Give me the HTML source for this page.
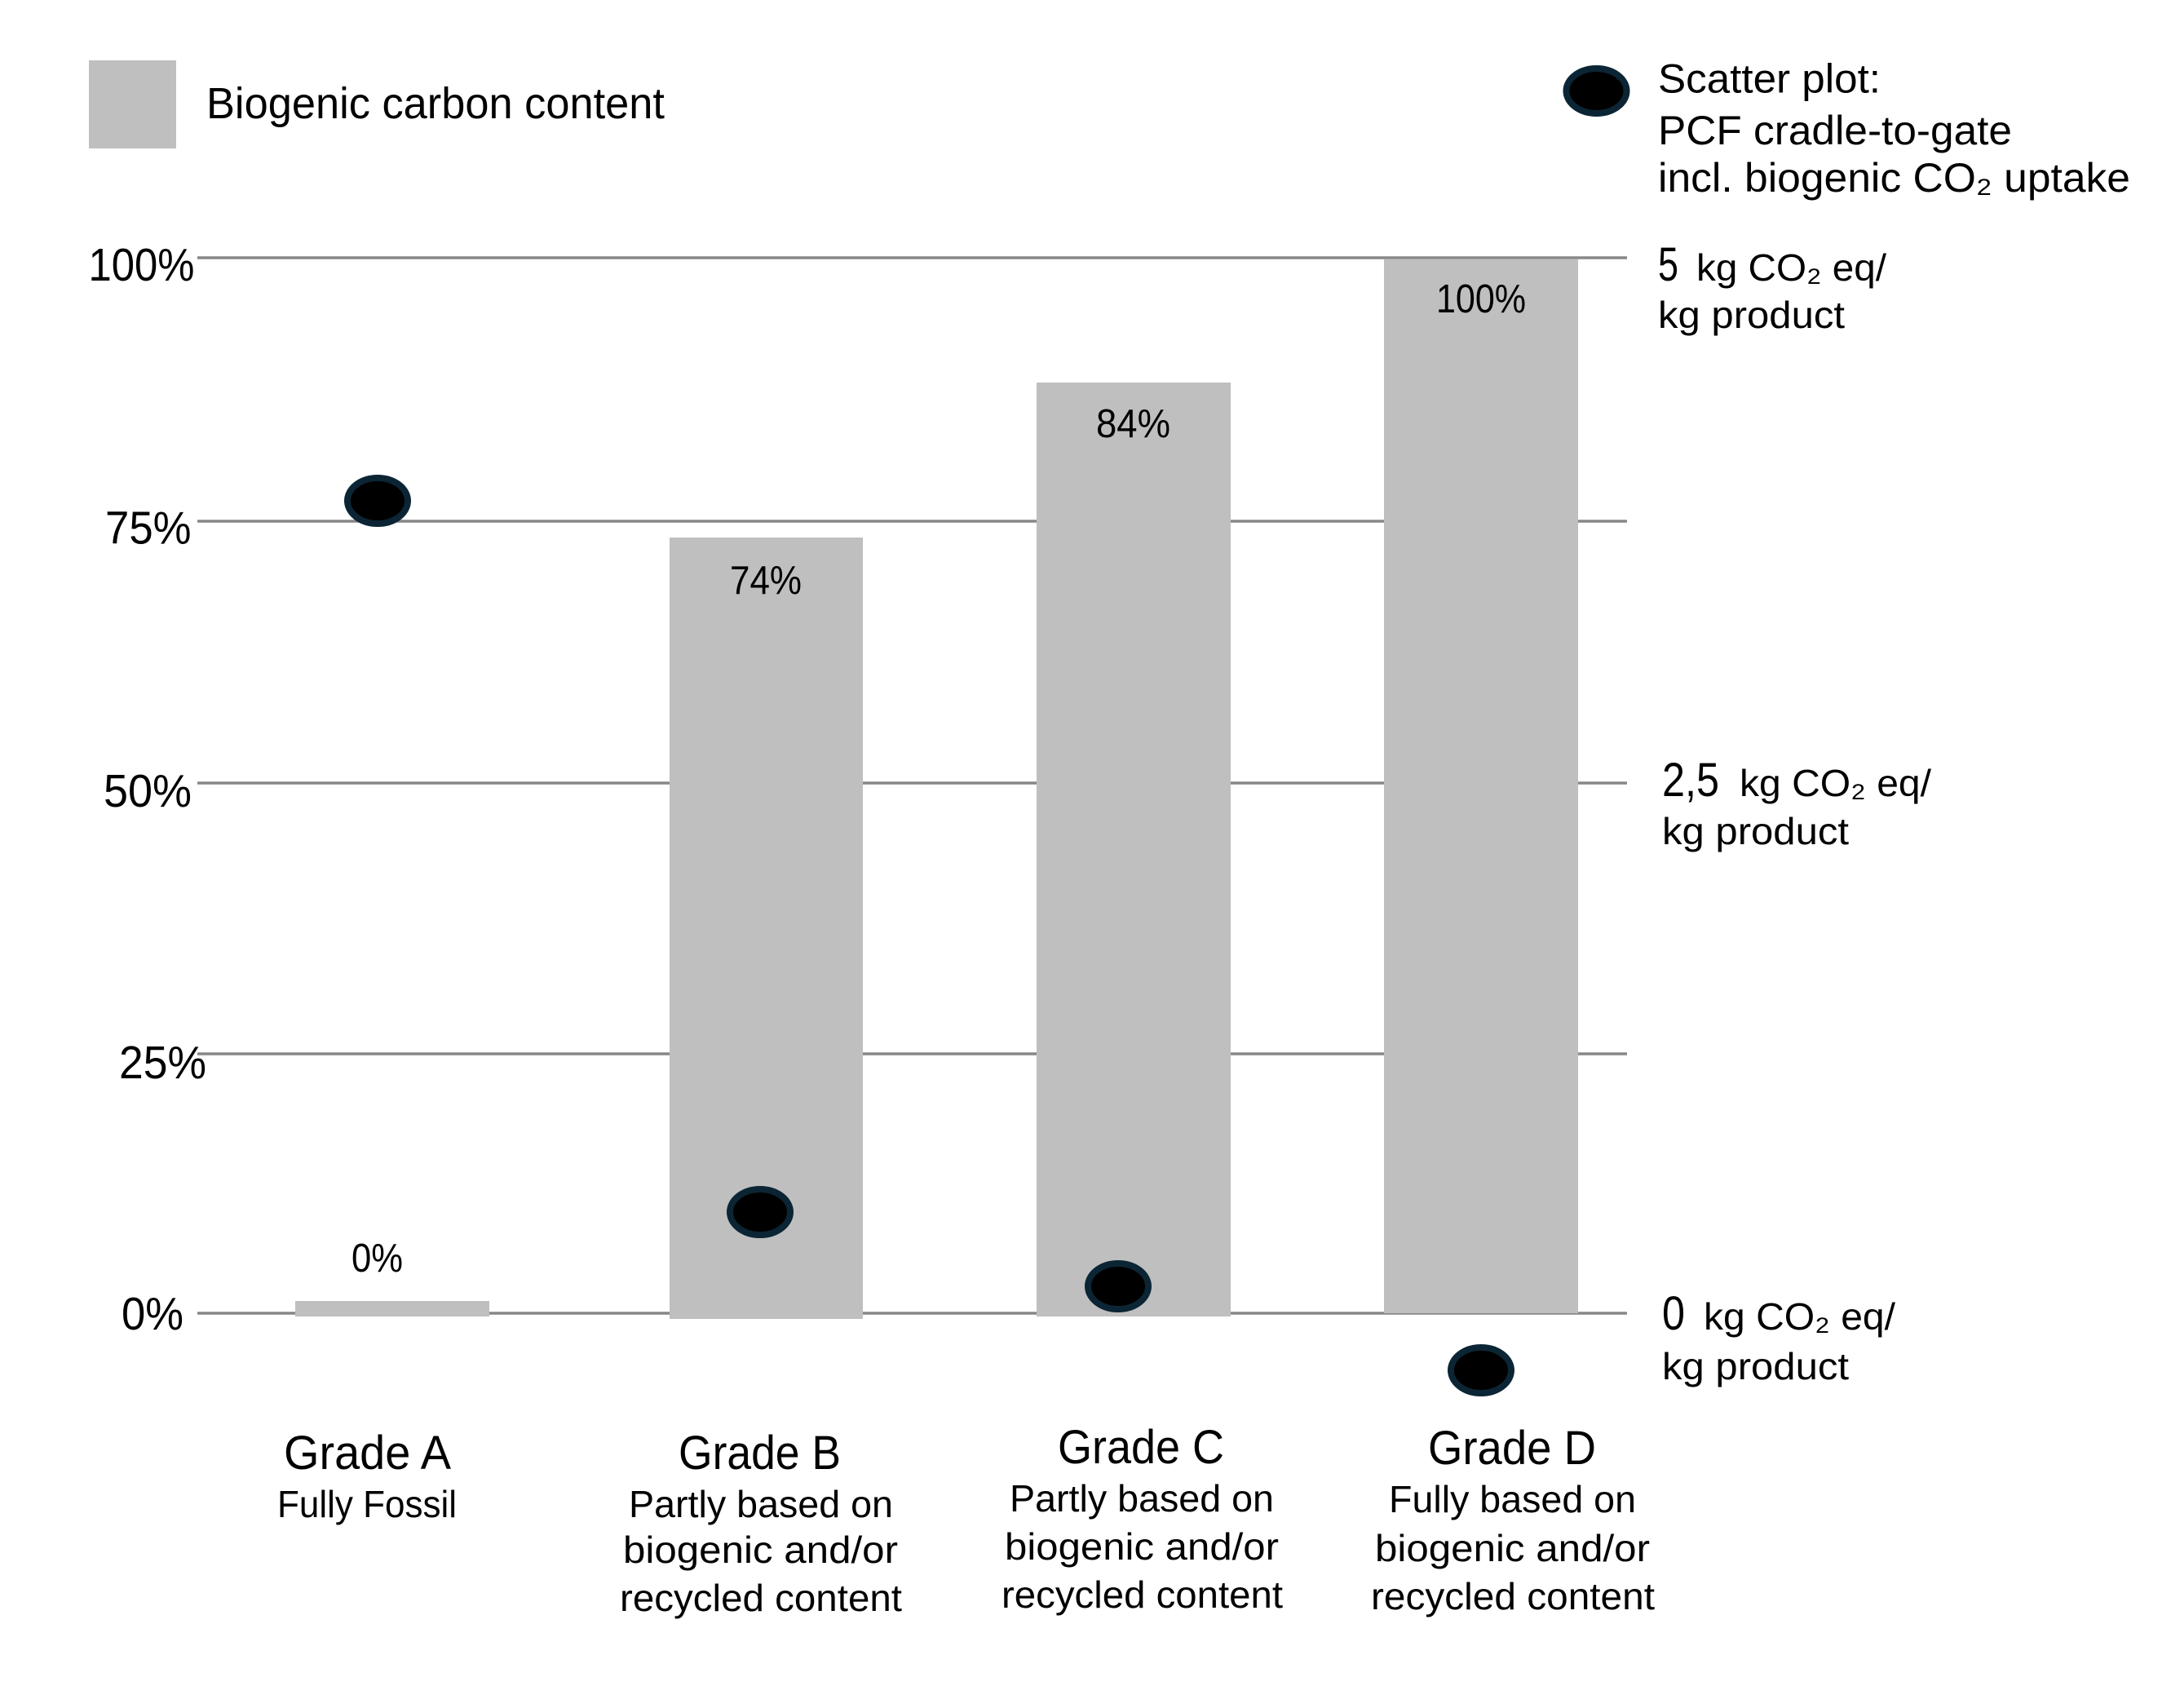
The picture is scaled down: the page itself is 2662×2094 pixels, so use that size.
<!DOCTYPE html>
<html>
<head>
<meta charset="utf-8">
<style>
  html, body { margin:0; padding:0; background:#ffffff; }
  svg { display:block; }
  text { font-family: "Liberation Sans", "DejaVu Sans", sans-serif; fill:#000; }
</style>
</head>
<body>
<svg xmlns="http://www.w3.org/2000/svg" width="2662" height="2094" viewBox="0 0 2662 2094">
  <rect x="0" y="0" width="2662" height="2094" fill="#ffffff"/>

  <!-- Legend: bars -->
  <rect x="109" y="74" width="107" height="108" fill="#bfbfbf"/>
  <text x="253" y="145" font-size="54" textLength="562" lengthAdjust="spacingAndGlyphs">Biogenic carbon content</text>

  <!-- Legend: scatter -->
  <ellipse cx="1957.5" cy="111.5" rx="37" ry="27.5" fill="#000" stroke="#0b2534" stroke-width="8"/>
  <text x="2033" y="113.5" font-size="50" textLength="273" lengthAdjust="spacingAndGlyphs">Scatter plot:</text>
  <text x="2033" y="177" font-size="50" textLength="434" lengthAdjust="spacingAndGlyphs">PCF cradle-to-gate</text>
  <text x="2033" y="235" font-size="50" textLength="579" lengthAdjust="spacingAndGlyphs">incl. biogenic CO₂ uptake</text>

  <!-- Gridlines -->
  <g stroke="#878787" stroke-width="3.5">
    <line x1="242" y1="316" x2="1995" y2="316"/>
    <line x1="242" y1="639" x2="1995" y2="639"/>
    <line x1="242" y1="960" x2="1995" y2="960"/>
    <line x1="242" y1="1292" x2="1995" y2="1292"/>
    <line x1="242" y1="1610" x2="1995" y2="1610"/>
  </g>

  <!-- Left axis labels -->
  <g font-size="57">
    <text x="108.5" y="344" textLength="130" lengthAdjust="spacingAndGlyphs">100%</text>
    <text x="129" y="666.5" textLength="105.5" lengthAdjust="spacingAndGlyphs">75%</text>
    <text x="127" y="989" textLength="108" lengthAdjust="spacingAndGlyphs">50%</text>
    <text x="146" y="1322" textLength="107" lengthAdjust="spacingAndGlyphs">25%</text>
    <text x="149" y="1630" textLength="76" lengthAdjust="spacingAndGlyphs">0%</text>
  </g>

  <!-- Bars -->
  <g fill="#bfbfbf">
    <rect x="362" y="1595" width="238" height="19"/>
    <rect x="821" y="659" width="237" height="958"/>
    <rect x="1271" y="469" width="238" height="1145"/>
    <rect x="1697" y="318" width="238" height="1292"/>
  </g>

  <!-- Bar labels -->
  <g font-size="49">
    <text x="431" y="1559" textLength="63" lengthAdjust="spacingAndGlyphs">0%</text>
    <text x="895" y="728" textLength="88" lengthAdjust="spacingAndGlyphs">74%</text>
    <text x="1344" y="536" textLength="91" lengthAdjust="spacingAndGlyphs">84%</text>
    <text x="1761" y="383" textLength="110" lengthAdjust="spacingAndGlyphs">100%</text>
  </g>

  <!-- Scatter points -->
  <g fill="#000" stroke="#0b2534" stroke-width="8">
    <ellipse cx="463" cy="614" rx="37" ry="28"/>
    <ellipse cx="932" cy="1486" rx="37" ry="28"/>
    <ellipse cx="1371" cy="1577" rx="37" ry="28"/>
    <ellipse cx="1816" cy="1680" rx="37" ry="28"/>
  </g>

  <!-- Right axis labels -->
  <text x="2033" y="344" font-size="58" textLength="25" lengthAdjust="spacingAndGlyphs">5</text>
  <text x="2080" y="344" font-size="46" textLength="233" lengthAdjust="spacingAndGlyphs">kg CO₂ eq/</text>
  <text x="2033" y="402" font-size="46" textLength="229" lengthAdjust="spacingAndGlyphs">kg product</text>

  <text x="2038" y="976" font-size="58" textLength="70" lengthAdjust="spacingAndGlyphs">2,5</text>
  <text x="2133" y="976" font-size="46" textLength="235" lengthAdjust="spacingAndGlyphs">kg CO₂ eq/</text>
  <text x="2038" y="1035" font-size="46" textLength="229" lengthAdjust="spacingAndGlyphs">kg product</text>

  <text x="2038" y="1630" font-size="58" textLength="28" lengthAdjust="spacingAndGlyphs">0</text>
  <text x="2089" y="1630" font-size="46" textLength="235" lengthAdjust="spacingAndGlyphs">kg CO₂ eq/</text>
  <text x="2038" y="1691" font-size="46" textLength="229" lengthAdjust="spacingAndGlyphs">kg product</text>

  <!-- Category labels -->
  <g font-size="58">
    <text x="348" y="1801" textLength="205" lengthAdjust="spacingAndGlyphs">Grade A</text>
    <text x="832" y="1801" textLength="199" lengthAdjust="spacingAndGlyphs">Grade B</text>
    <text x="1297" y="1794" textLength="204" lengthAdjust="spacingAndGlyphs">Grade C</text>
    <text x="1751" y="1795" textLength="206" lengthAdjust="spacingAndGlyphs">Grade D</text>
  </g>
  <g font-size="46">
    <text x="340" y="1860" textLength="220" lengthAdjust="spacingAndGlyphs">Fully Fossil</text>

    <text x="771" y="1860" textLength="324" lengthAdjust="spacingAndGlyphs">Partly based on</text>
    <text x="764" y="1916" textLength="337" lengthAdjust="spacingAndGlyphs">biogenic and/or</text>
    <text x="760" y="1975" textLength="346" lengthAdjust="spacingAndGlyphs">recycled content</text>

    <text x="1238" y="1853" textLength="324" lengthAdjust="spacingAndGlyphs">Partly based on</text>
    <text x="1232" y="1912" textLength="336" lengthAdjust="spacingAndGlyphs">biogenic and/or</text>
    <text x="1228" y="1971" textLength="345" lengthAdjust="spacingAndGlyphs">recycled content</text>

    <text x="1703" y="1854" textLength="303" lengthAdjust="spacingAndGlyphs">Fully based on</text>
    <text x="1686" y="1914" textLength="337" lengthAdjust="spacingAndGlyphs">biogenic and/or</text>
    <text x="1681" y="1973" textLength="348" lengthAdjust="spacingAndGlyphs">recycled content</text>
  </g>
</svg>
</body>
</html>
